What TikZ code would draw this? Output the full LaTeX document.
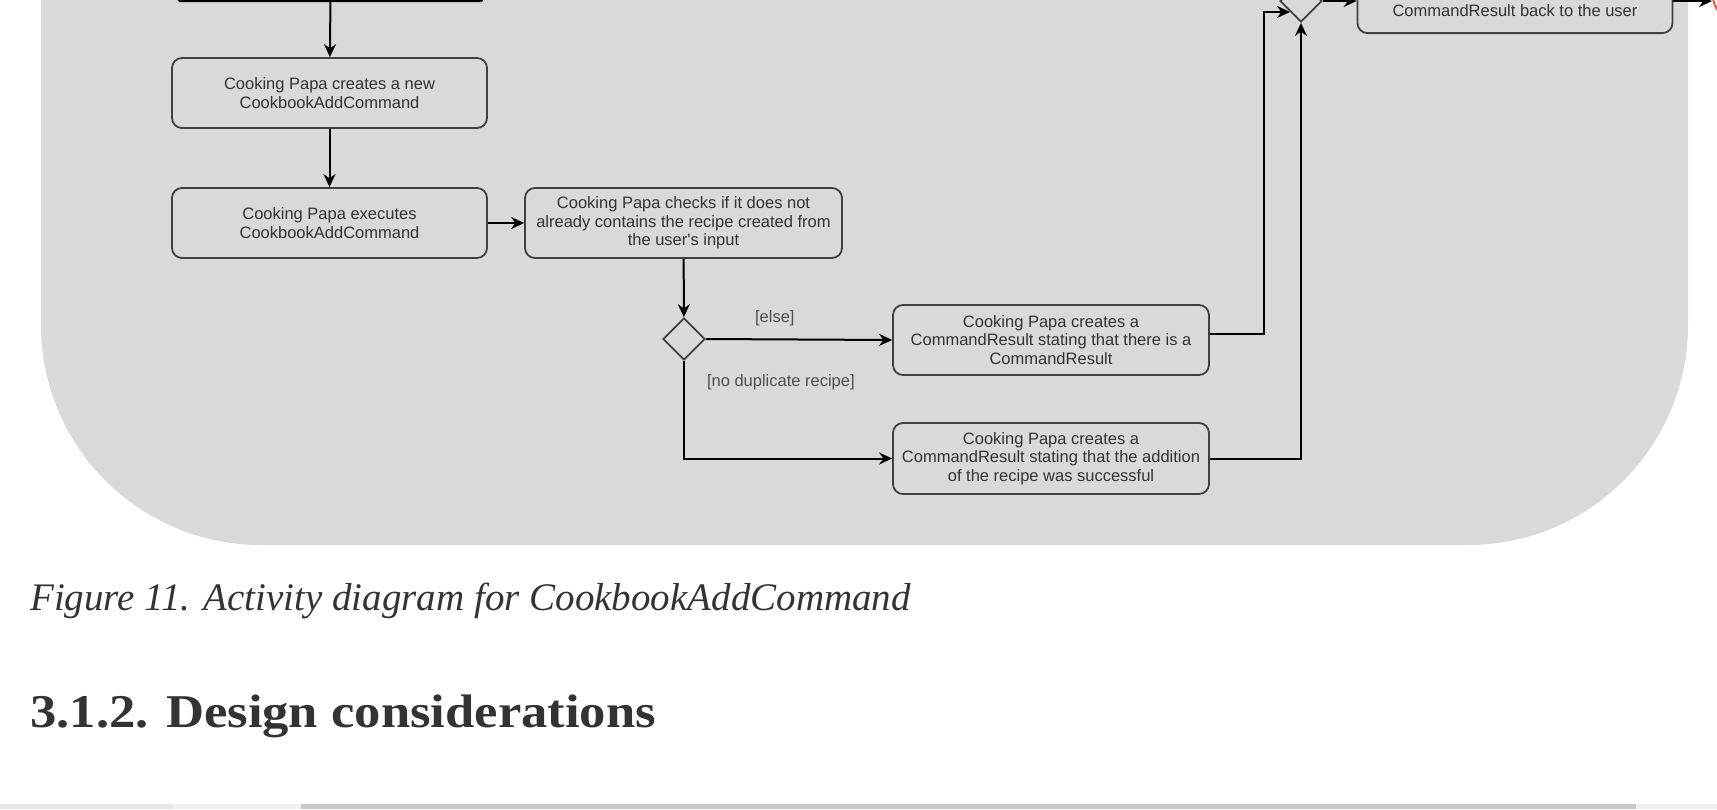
\documentclass[tikz,border=0pt]{standalone}
\usepackage{fontspec}
\setmainfont{Liberation Serif}
\newfontfamily\diafont{Liberation Sans}
\usetikzlibrary{arrows.meta,shapes.geometric}
\definecolor{panel}{HTML}{D9D9D9}
\definecolor{boxline}{HTML}{404040}
\definecolor{boxtext}{HTML}{333333}
\definecolor{guardtext}{HTML}{505050}
\definecolor{doctext}{HTML}{333333}
\definecolor{endred}{HTML}{F05A3C}

\begin{document}
\begin{tikzpicture}[x=1pt,y=-1pt]
\tikzset{action/.style={draw=boxline,line width=1.8pt,rounded corners=10pt,minimum width=315pt,minimum height=70pt,inner sep=0pt,align=center,text=boxtext,font=\diafont\fontsize{16.5}{18.3}\selectfont}}
\tikzset{decision/.style={diamond,draw=boxline,line width=1.8pt,minimum width=42pt,minimum height=42pt,inner sep=0pt}}
\tikzset{flow/.style={draw=black,line width=2pt,-{Stealth[length=13pt,width=12pt]}}}
\tikzset{guard/.style={text=guardtext,font=\diafont\fontsize{16.5}{18.3}\selectfont,inner sep=0pt}}

\path[use as bounding box,clip] (0,0) rectangle (1717,809);
\fill[white] (0,0) rectangle (1717,809);
\fill[panel,rounded corners=220pt] (41,-400) rectangle (1688,545);

% actions
\node[fill=black,minimum width=305pt,minimum height=8pt,inner sep=0pt,rounded corners=2pt] (forkbar) at (330.5,-2) {};
\node[action] (newcmd) at (329.5,93) {Cooking Papa creates a new\\CookbookAddCommand};
\node[action] (execcmd) at (329.5,223) {Cooking Papa executes\\CookbookAddCommand};
\node[action,minimum width=317pt] (checkdup) at (683.5,223) {Cooking Papa checks if it does not\\already contains the recipe created from\\the user's input};
\node[decision] (decide) at (684,339) {};
\node[action,minimum width=316pt] (dupres) at (1051,340) {Cooking Papa creates a\\CommandResult stating that there is a\\CommandResult};
\node[action,minimum width=316pt,minimum height=71pt] (okres) at (1051,458.5) {Cooking Papa creates a\\CommandResult stating that the addition\\of the recipe was successful};
\node[decision] (merge) at (1301,1) {};
\node[action,minimum height=65pt,anchor=south] (showres) at (1515,34) {\raisebox{-10.5pt}[\height][\depth]{CommandResult back to the user}};
\node[circle,draw=endred,line width=2pt,minimum size=48pt] (endnode) at (1737,-4) {};

% flows
\draw[flow] (forkbar) -- (newcmd);
\draw[flow] (newcmd) -- (execcmd);
\draw[flow] (execcmd) -- (checkdup);
\draw[flow] (checkdup) -- (decide);
\draw[flow] (decide.east) -- node[guard,above=12pt,pos=0.37] {[else]} (dupres.west);
\draw[flow] (decide.south) |- node[guard,pos=0.11,anchor=west,xshift=22pt] {[no duplicate recipe]} (okres.west);
\draw[flow] ([yshift=6pt]dupres.east) -- ++(54,0) |- (merge.south west);
\draw[flow] (okres.east) -| (merge.south);
\draw[flow] (merge.east) -- (merge.east -| showres.west);
\draw[flow] ([yshift=-0.5pt]showres.east) -- ([yshift=-0.5pt]showres.east -| endnode.west);

% text below the figure
\node[anchor=base west,inner sep=0pt,text=doctext,font=\itshape\fontsize{39}{41}\selectfont] (caption) at (30,610) {Figure 11. Activity diagram for CookbookAddCommand};
\node[anchor=base west,inner sep=0pt,text=doctext,font=\bfseries\fontsize{47}{50}\selectfont] (heading) at (30,727) {\scalebox{1.12}[1]{3.1.2. Design considerations}};

% scroll bar
\fill[black!10] (0,804) rectangle (173,809);
\fill[black!6] (173,804) rectangle (301,809);
\fill[black!22] (301,804) rectangle (1636,809);
\fill[black!6] (1636,804) rectangle (1717,809);
\end{tikzpicture}
\end{document}
